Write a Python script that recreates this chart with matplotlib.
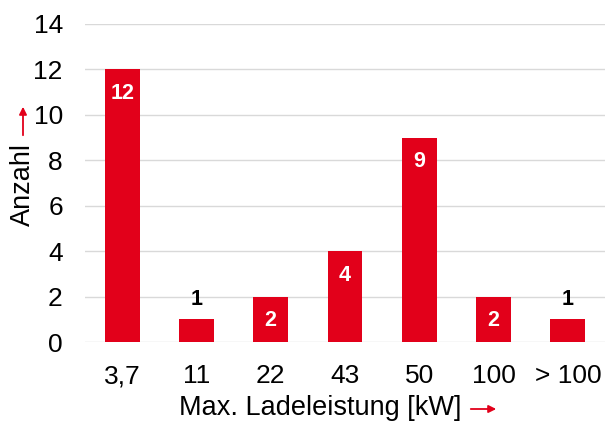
import matplotlib.pyplot as plt

categories = ["3,7", "11", "22", "43", "50", "100", "> 100"]
counts = [12, 1, 2, 4, 9, 2, 1]

RED = "#E2001A"
W, H = 609, 425

plt.rcParams['font.family'] = ['Liberation Sans', 'DejaVu Sans']

fig = plt.figure(figsize=(W / 100, H / 100), dpi=100)
ax = fig.add_axes([85 / W, 1 - 342 / H, 520 / W, 318 / H])

x = range(len(categories))
bars = ax.bar(x, counts, width=0.47, color=RED, zorder=3)

# value labels: white inside tall bars, black above short ones
for xi, v in zip(x, counts):
    if v >= 2:
        ax.annotate(str(v), (xi, v), xytext=(0, -17.5), textcoords='offset points',
                    ha='center', va='center', color='white', fontsize=15.5, fontweight='bold')
    else:
        ax.annotate(str(v), (xi, v), xytext=(0, 14), textcoords='offset points',
                    ha='center', va='center', color='black', fontsize=15.5, fontweight='bold')

ax.set_xlim(-0.5, len(categories) - 0.5)
ax.set_ylim(0, 14)
ax.set_yticks(range(0, 15, 2))
ax.set_xticks(list(x))
ax.set_xticklabels(categories)
ax.tick_params(axis='both', length=0, labelsize=19)
ax.tick_params(axis='y', pad=16)
ax.tick_params(axis='x', pad=16)
ax.grid(axis='y', color='#D9D9D9', lw=1.0, zorder=0)
for s in ax.spines.values():
    s.set_visible(False)

# axis titles with red arrows
fig.text(22.5 / W, 1 - 184.5 / H, "Anzahl", rotation=90, ha='center', va='center', fontsize=19.5)
ax.annotate("", xy=(23 / W, 1 - 104 / H), xytext=(23 / W, 1 - 138 / H),
            xycoords='figure fraction', textcoords='figure fraction',
            arrowprops=dict(arrowstyle='-|>', color=RED, lw=1.3, mutation_scale=11))
fig.text(320 / W, 1 - 408 / H, "Max. Ladeleistung [kW]", ha='center', va='center', fontsize=19.5)
ax.annotate("", xy=(499 / W, 1 - 409 / H), xytext=(468 / W, 1 - 409 / H),
            xycoords='figure fraction', textcoords='figure fraction',
            arrowprops=dict(arrowstyle='-|>', color=RED, lw=1.3, mutation_scale=11))

fig.savefig("out.png", dpi=100)
